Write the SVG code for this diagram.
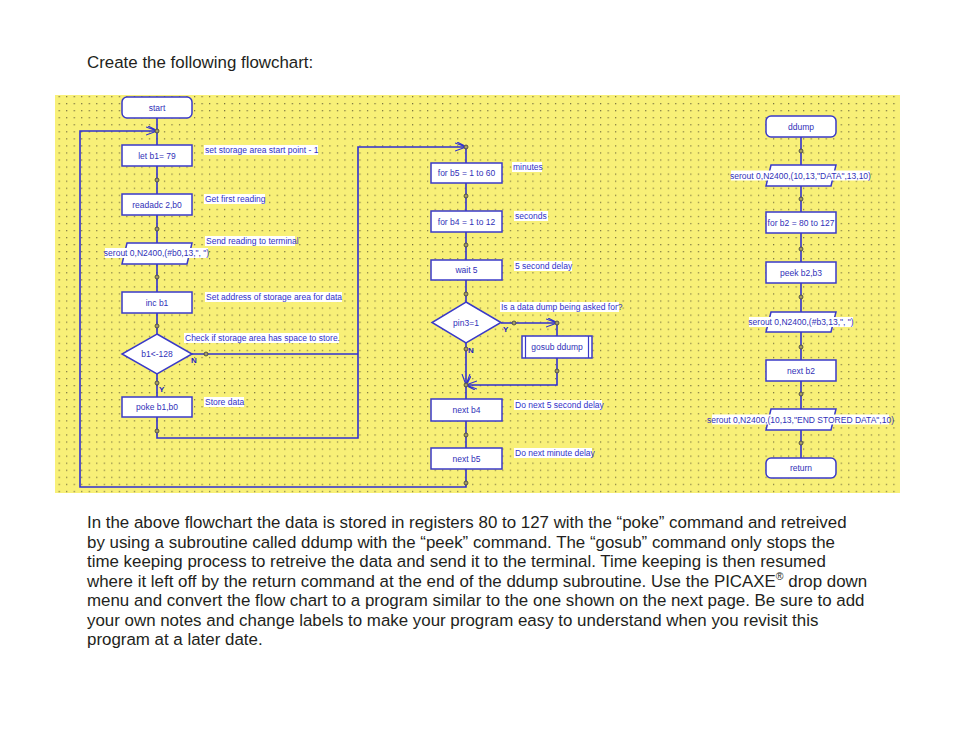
<svg xmlns="http://www.w3.org/2000/svg" width="954" height="738" viewBox="0 0 954 738">
<style>
.body{font-family:"Liberation Sans",Arial,sans-serif;font-size:16.9px;fill:#231f20}
.nt{font-family:"Liberation Sans",Arial,sans-serif;font-size:8.5px;fill:#3030b8;text-anchor:middle;dominant-baseline:central}
.lb{font-family:"Liberation Sans",Arial,sans-serif;font-size:8.5px;fill:#3030c8;dominant-baseline:central}
.yn{font-family:"Liberation Sans",Arial,sans-serif;font-size:8px;font-weight:bold;fill:#2020c0;dominant-baseline:central}
.box{fill:#fff;stroke:#3a3ac8;stroke-width:1.5}
.lbg{fill:#fff}
.ln{fill:none;stroke:#3030d0;stroke-width:1.6}
.dot{fill:#a49c68;stroke:#3c3c3c;stroke-width:0.8}
</style>
<defs>
<pattern id="grid" x="58.6" y="96" width="7.52" height="7.05" patternUnits="userSpaceOnUse">
<rect width="1.2" height="1.2" fill="#76703e"/>
</pattern>
<marker id="arr" viewBox="0 0 12 10" refX="11" refY="5" markerWidth="12" markerHeight="10" markerUnits="userSpaceOnUse" orient="auto">
<path d="M0,1 L11,5 L0,9 M2,0 L9,3.5" fill="none" stroke="#3030d0" stroke-width="1.1"/>
</marker>
</defs>
<rect width="954" height="738" fill="#fff"/>
<text class="body" x="87" y="68" font-size="17.4">Create the following flowchart:</text>
<rect x="55" y="95" width="845" height="398" fill="#f8f078"/>
<rect x="55" y="95" width="845" height="398" fill="url(#grid)"/>

<g id="connectors">
<polyline class="ln" points="157,118 157,145"/>
<polyline class="ln" points="157,166 157,194"/>
<polyline class="ln" points="157,215 157,243"/>
<polyline class="ln" points="157,264 157,292"/>
<polyline class="ln" points="157,313 157,334"/>
<polyline class="ln" points="157,374 157,397"/>
<polyline class="ln" points="157,417 157,438 358,438 358,147 466,147" marker-end="url(#arr)"/>
<polyline class="ln" points="192,354 358,354"/>
<polyline class="ln" points="466,147 466,163"/>
<polyline class="ln" points="466,469 466,487 80,487 80,131 157,131" marker-end="url(#arr)"/>
<polyline class="ln" points="466,183 466,211"/>
<polyline class="ln" points="466,232 466,260"/>
<polyline class="ln" points="466,280 466,302"/>
<polyline class="ln" points="501,323 557,323" marker-end="url(#arr)"/>
<polyline class="ln" points="557,323 557,336"/>
<polyline class="ln" points="557,358 557,385 466,385" marker-end="url(#arr)"/>
<polyline class="ln" points="466,343 466,385" marker-end="url(#arr)"/>
<polyline class="ln" points="466,385 466,399"/>
<polyline class="ln" points="466,421 466,448"/>
<polyline class="ln" points="801,137 801,165"/>
<polyline class="ln" points="801,186 801,212"/>
<polyline class="ln" points="801,233 801,262"/>
<polyline class="ln" points="801,283 801,312"/>
<polyline class="ln" points="801,332 801,360"/>
<polyline class="ln" points="801,381 801,409"/>
<polyline class="ln" points="801,430 801,458"/>
<g id="dots">
<circle class="dot" cx="157" cy="131" r="2"/>
<circle class="dot" cx="157" cy="180" r="2"/>
<circle class="dot" cx="157" cy="229" r="2"/>
<circle class="dot" cx="157" cy="277" r="2"/>
<circle class="dot" cx="157" cy="326" r="2"/>
<circle class="dot" cx="157" cy="383" r="2"/>
<circle class="dot" cx="157" cy="431" r="2"/>
<circle class="dot" cx="206" cy="354" r="2"/>
<circle class="dot" cx="466" cy="147" r="2"/>
<circle class="dot" cx="466" cy="196" r="2"/>
<circle class="dot" cx="466" cy="245" r="2"/>
<circle class="dot" cx="466" cy="294" r="2"/>
<circle class="dot" cx="514" cy="323" r="2"/>
<circle class="dot" cx="557" cy="323" r="2"/>
<circle class="dot" cx="466" cy="349" r="2"/>
<circle class="dot" cx="557" cy="371" r="2"/>
<circle class="dot" cx="466" cy="385" r="2"/>
<circle class="dot" cx="466" cy="435" r="2"/>
<circle class="dot" cx="466" cy="483" r="2"/>
<circle class="dot" cx="801" cy="151" r="2"/>
<circle class="dot" cx="801" cy="199" r="2"/>
<circle class="dot" cx="801" cy="249" r="2"/>
<circle class="dot" cx="801" cy="297" r="2"/>
<circle class="dot" cx="801" cy="347" r="2"/>
<circle class="dot" cx="801" cy="394" r="2"/>
<circle class="dot" cx="801" cy="443" r="2"/>
</g>
<text class="yn" x="191" y="360">N</text>
<text class="yn" x="159" y="389">Y</text>
<text class="yn" x="503" y="329">Y</text>
<text class="yn" x="468" y="350">N</text>
</g>

<g id="n-start"><rect class="box" x="122" y="97" width="70" height="21" rx="5"/><text class="nt" x="157" y="107.5">start</text></g>
<g id="n-letb1"><rect class="box" x="122" y="145" width="70" height="21"/><text class="nt" x="157" y="155.5">let b1= 79</text></g>
<g id="n-readadc"><rect class="box" x="122" y="194" width="70" height="21"/><text class="nt" x="157" y="204.5">readadc  2,b0</text></g>
<g id="n-serout1"><polygon class="box" points="127,243 192,243 187,264 122,264"/><rect class="lbg" x="105" y="248" width="103" height="10"/><text class="nt" x="156.5" y="253">serout 0,N2400,(#b0,13,", ")</text></g>
<g id="n-incb1"><rect class="box" x="122" y="292" width="70" height="21"/><text class="nt" x="157" y="302.5">inc b1</text></g>
<g id="n-b1check"><polygon class="box" points="157,334 192,354 157,374 122,354"/><text class="nt" x="157" y="354">b1&lt;-128</text></g>
<g id="n-poke"><rect class="box" x="122" y="397" width="70" height="20"/><text class="nt" x="157" y="407">poke b1,b0</text></g>

<g id="n-forb5"><rect class="box" x="431" y="163" width="71" height="20"/><text class="nt" x="466.5" y="173">for b5 = 1 to 60</text></g>
<g id="n-forb4"><rect class="box" x="431" y="211" width="71" height="21"/><text class="nt" x="466.5" y="221.5">for b4 = 1 to 12</text></g>
<g id="n-wait"><rect class="box" x="431" y="260" width="71" height="20"/><text class="nt" x="466.5" y="270">wait 5</text></g>
<g id="n-pin3"><polygon class="box" points="466,302 501,322.5 466,343 432,322.5"/><text class="nt" x="466" y="322.5">pin3=1</text></g>
<g id="n-gosub"><rect class="box" x="522" y="336" width="70" height="22"/><line x1="525.5" y1="336" x2="525.5" y2="358" stroke="#3a3ac8" stroke-width="1.2"/><line x1="588.5" y1="336" x2="588.5" y2="358" stroke="#3a3ac8" stroke-width="1.2"/><text class="nt" x="557" y="347">gosub ddump</text></g>
<g id="n-nextb4"><rect class="box" x="431" y="399" width="71" height="22"/><text class="nt" x="466.5" y="410">next b4</text></g>
<g id="n-nextb5"><rect class="box" x="431" y="448" width="71" height="21"/><text class="nt" x="466.5" y="458.5">next b5</text></g>

<g id="n-ddump"><rect class="box" x="766" y="116" width="70" height="21" rx="5"/><text class="nt" x="801" y="126.5">ddump</text></g>
<g id="n-serout2"><polygon class="box" points="771,165 836,165 831,186 766,186"/><rect class="lbg" x="731" y="170.5" width="139" height="10"/><text class="nt" x="800.5" y="175.5">serout 0,N2400,(10,13,"DATA",13,10)</text></g>
<g id="n-forb2"><rect class="box" x="766" y="212" width="70" height="21"/><text class="nt" x="801" y="222.5">for b2 = 80 to 127</text></g>
<g id="n-peek"><rect class="box" x="766" y="262" width="70" height="21"/><text class="nt" x="801" y="272.5">peek b2,b3</text></g>
<g id="n-serout3"><polygon class="box" points="771,312 836,312 831,332 766,332"/><rect class="lbg" x="749" y="317" width="104" height="10"/><text class="nt" x="801" y="322">serout 0,N2400,(#b3,13,", ")</text></g>
<g id="n-nextb2"><rect class="box" x="766" y="360" width="70" height="21"/><text class="nt" x="801" y="370.5">next b2</text></g>
<g id="n-serout4"><polygon class="box" points="771,409 836,409 831,430 766,430"/><rect class="lbg" x="712" y="414.5" width="177" height="10"/><text class="nt" x="800.5" y="419.5">serout 0,N2400,(10,13,"END STORED DATA",10)</text></g>
<g id="n-return"><rect class="box" x="766" y="458" width="70" height="20" rx="5"/><text class="nt" x="801" y="468">return</text></g>

<g id="labels">
<rect class="lbg" x="204" y="145" width="114" height="10"/><text class="lb" x="205" y="150">set storage area start point - 1</text>
<rect class="lbg" x="204" y="194" width="61" height="10"/><text class="lb" x="205" y="199">Get first reading</text>
<rect class="lbg" x="205" y="236" width="90" height="10"/><text class="lb" x="206" y="241">Send reading to terminal</text>
<rect class="lbg" x="205" y="292" width="137" height="10"/><text class="lb" x="206" y="297">Set address of storage area for data</text>
<rect class="lbg" x="184" y="333" width="155" height="10"/><text class="lb" x="185" y="338">Check if storage area has space to store.</text>
<rect class="lbg" x="204" y="397" width="40" height="10"/><text class="lb" x="205" y="402">Store data</text>
<rect class="lbg" x="512" y="162" width="30" height="10"/><text class="lb" x="513" y="167">minutes</text>
<rect class="lbg" x="514" y="211" width="34" height="10"/><text class="lb" x="515" y="216">seconds</text>
<rect class="lbg" x="514" y="261" width="58" height="10"/><text class="lb" x="515" y="266">5 second delay</text>
<rect class="lbg" x="500" y="302" width="119" height="10"/><text class="lb" x="501" y="307">Is a data dump being asked for?</text>
<rect class="lbg" x="514" y="400" width="88" height="10"/><text class="lb" x="515" y="405">Do next 5 second delay</text>
<rect class="lbg" x="514" y="448" width="78" height="10"/><text class="lb" x="515" y="453">Do next minute delay</text>
</g>

<text class="body" x="87" y="528">In the above flowchart the data is stored in registers 80 to 127 with the “poke” command and retreived</text>
<text class="body" x="87" y="547.5">by using a subroutine called ddump with the “peek” command. The “gosub” command only stops the</text>
<text class="body" x="87" y="567">time keeping process to retreive the data and send it to the terminal. Time keeping is then resumed</text>
<text class="body" x="87" y="586.5">where it left off by the return command at the end of the ddump subroutine. Use the PICAXE<tspan font-size="10.5" dy="-6.5">®</tspan><tspan dy="6.5"> drop down</tspan></text>
<text class="body" x="87" y="606">menu and convert the flow chart to a program similar to the one shown on the next page. Be sure to add</text>
<text class="body" x="87" y="625.5">your own notes and change labels to make your program easy to understand when you revisit this</text>
<text class="body" x="87" y="645">program at a later date.</text>
</svg>
